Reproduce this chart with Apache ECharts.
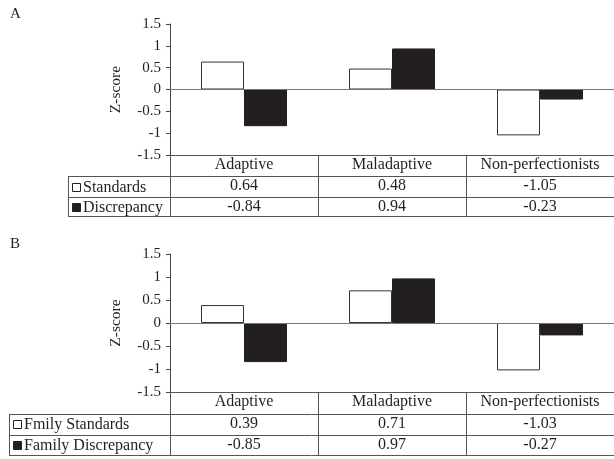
<!DOCTYPE html>
<html>
<head>
<meta charset="utf-8">
<script src="https://cdn.jsdelivr.net/npm/echarts@6/dist/echarts.min.js"></script>
<style>
  html, body { margin: 0; padding: 0; background: #fff; }
  #chart { width: 614px; height: 459px; }
</style>
</head>
<body>
<div id="chart"></div>
<script>
const categories = ['Adaptive', 'Maladaptive', 'Non-perfectionists']

// panel A
const seriesNamesA = ['Standards', 'Discrepancy']
const standardsA = [0.64, 0.48, -1.05]
const discrepancyA = [-0.84, 0.94, -0.23]

// panel B
const seriesNamesB = ['Fmily Standards', 'Family Discrepancy']
const standardsB = [0.39, 0.71, -1.03]
const discrepancyB = [-0.85, 0.97, -0.27]

const yMin = -1.5
const yMax = 1.5
const yStep = 0.5

const FONT = "'Liberation Serif', 'Times New Roman', serif"
const INK = '#231f20'
const LINE = '#555'

const chart = echarts.init(document.getElementById('chart'))

// layout of the two panels (table rows sit under each grid)
const panels = [
  { tag: 'A', top: 24, height: 131, rows: [21, 21, 19], tableLeft: 68, sq: 72, textX: 83,
    names: seriesNamesA, vals: [standardsA, discrepancyA] },
  { tag: 'B', top: 254, height: 138, rows: [21.5, 21.5, 20], tableLeft: 9, sq: 13, textX: 24,
    names: seriesNamesB, vals: [standardsB, discrepancyB] },
]

const grid = [], xAxis = [], yAxis = [], series = [], graphic = []

panels.forEach((p, gi) => {
  grid.push({ left: 170, right: 0, top: p.top, height: p.height })
  const bottom = p.top + p.height
  const tableH = p.rows[0] + p.rows[1] + p.rows[2]

  // category row + vertical table dividers (ticks)
  xAxis.push({
    type: 'category', gridIndex: gi, data: categories, position: 'bottom',
    axisLine: { show: true, onZero: false, lineStyle: { color: LINE, width: 1 } },
    axisTick: { show: true, interval: 0, length: tableH, lineStyle: { color: LINE } },
    axisLabel: { interval: 0, margin: 2, color: INK, fontFamily: FONT, fontSize: 16 },
  })
  // value rows
  p.vals.forEach((arr, ri) => {
    xAxis.push({
      type: 'category', gridIndex: gi, data: categories, position: 'bottom',
      offset: p.rows[0] + (ri ? p.rows[1] : 0),
      axisLine: { show: false }, axisTick: { show: false },
      axisLabel: {
        interval: 0, margin: 2, color: INK, fontFamily: FONT, fontSize: 16,
        formatter: (v, i) => arr[i].toFixed(2),
      },
    })
  })

  yAxis.push({
    type: 'value', gridIndex: gi, min: yMin, max: yMax, interval: yStep,
    name: 'Z-score', nameLocation: 'middle', nameRotate: 90, nameGap: 46,
    nameTextStyle: { color: INK, fontFamily: FONT, fontSize: 15.5 },
    axisLine: { show: true, lineStyle: { color: '#444' } },
    axisTick: { show: true, length: 4, lineStyle: { color: '#444' } },
    axisLabel: { margin: 9, color: INK, fontFamily: FONT, fontSize: 15 },
    splitLine: { show: false },
  })

  const xi = gi * 3
  series.push({
    name: p.names[0], type: 'bar', xAxisIndex: xi, yAxisIndex: gi,
    data: p.vals[0], barWidth: 43, barGap: '0%',
    itemStyle: { color: '#fff', borderColor: '#333', borderWidth: 1 },
    markLine: {
      silent: true, symbol: 'none', label: { show: false },
      lineStyle: { color: '#777', type: 'solid', width: 1 },
      data: [{ yAxis: 0 }],
    },
  })
  series.push({
    name: p.names[1], type: 'bar', xAxisIndex: xi, yAxisIndex: gi,
    data: p.vals[1], barWidth: 43, barGap: '0%',
    itemStyle: { color: INK, borderColor: INK, borderWidth: 1 },
  })

  // table lines for the row-label column
  const y1 = bottom + p.rows[0]
  const y2 = y1 + p.rows[1]
  const y3 = y2 + p.rows[2]
  ;[y1, y2, y3].forEach((y) => {
    graphic.push({ type: 'line', silent: true,
      shape: { x1: p.tableLeft, y1: Math.round(y) + 0.5, x2: 614, y2: Math.round(y) + 0.5 },
      style: { stroke: LINE, lineWidth: 1 } })
  })
  graphic.push({ type: 'line', silent: true,
    shape: { x1: p.tableLeft + 0.5, y1: Math.round(y1), x2: p.tableLeft + 0.5, y2: Math.round(y3) + 1 },
    style: { stroke: LINE, lineWidth: 1 } })

  // row labels with legend squares
  ;[[y1, y2], [y2, y3]].forEach(([a, b], ri) => {
    const cy = (a + b) / 2
    graphic.push({ type: 'rect', silent: true,
      shape: { x: p.sq + 0.5, y: Math.round(cy) - 3.5, width: 8, height: 8 },
      style: { fill: ri ? INK : '#fff', stroke: INK, lineWidth: 1 } })
    graphic.push({ type: 'text', silent: true, x: p.textX, y: cy + 1,
      style: { text: p.names[ri], font: '16px ' + FONT, fill: INK, verticalAlign: 'middle' } })
  })

  // panel letter
  graphic.push({ type: 'text', silent: true, x: 10, y: p.top - 10,
    style: { text: p.tag, font: '15px ' + FONT, fill: INK, verticalAlign: 'middle' } })
})

chart.setOption({
  animation: false,
  backgroundColor: '#fff',
  grid, xAxis, yAxis, series, graphic,
})
</script>
</body>
</html>
